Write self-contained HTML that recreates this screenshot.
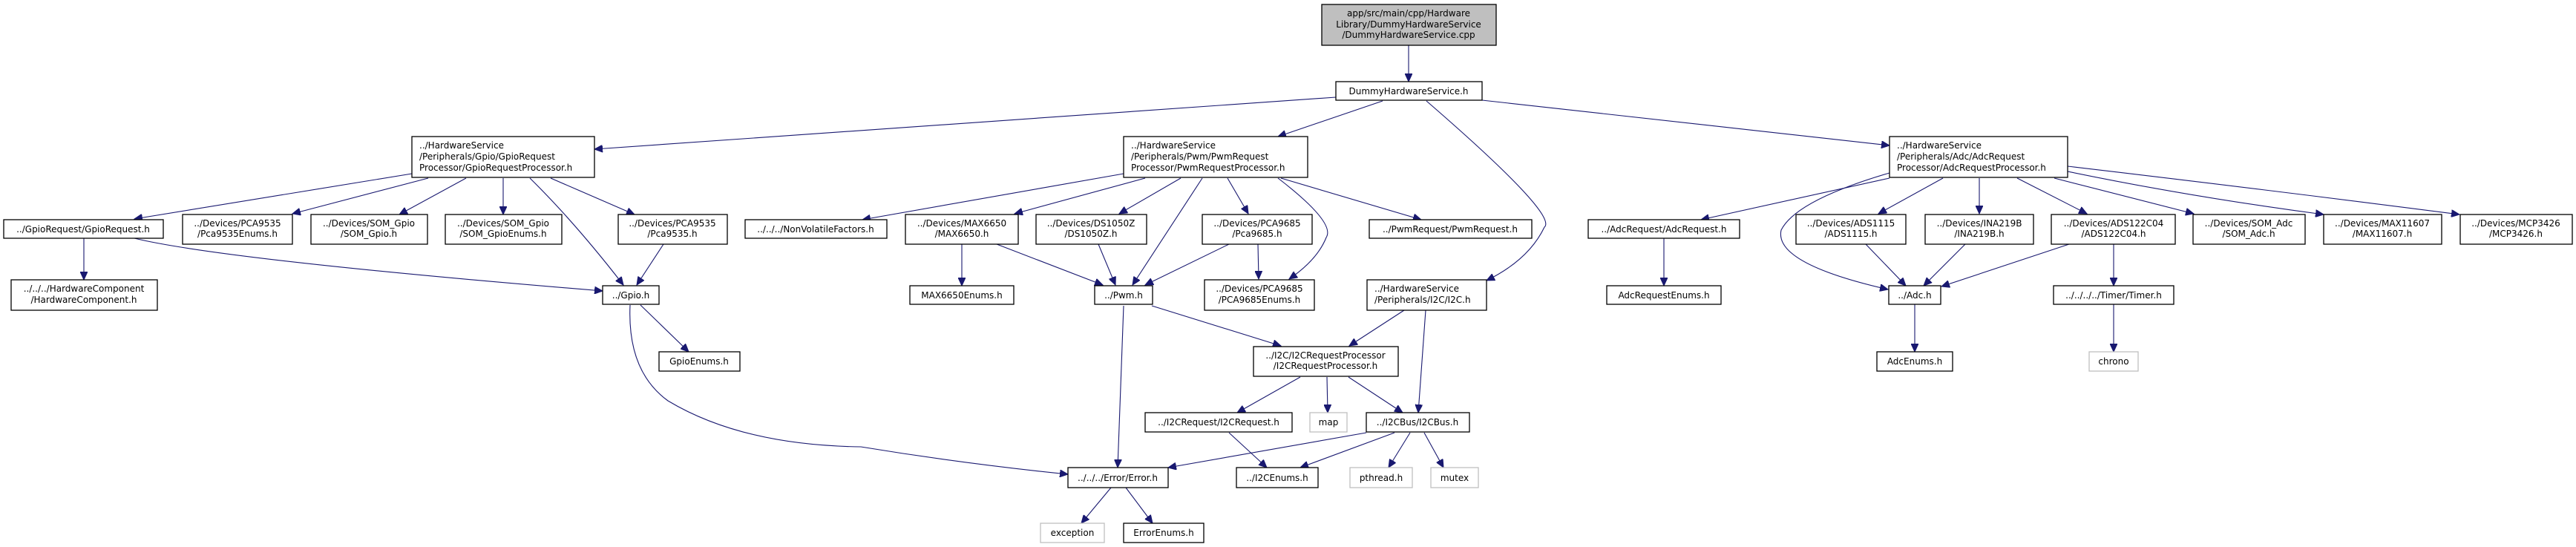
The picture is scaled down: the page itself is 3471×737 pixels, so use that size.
<!DOCTYPE html>
<html><head><meta charset="utf-8">
<style>
html,body{margin:0;padding:0;background:#fff;}
svg{display:block;}
text{font-family:"DejaVu Sans","Liberation Sans",sans-serif;font-size:12px;fill:#000;}
.n{fill:#fff;stroke:#000;stroke-width:1.3;}
.g{fill:#fff;stroke:#bfbfbf;stroke-width:1.3;}
.e{fill:none;stroke:#191970;stroke-width:1.1;}
</style></head>
<body>
<svg width="3471" height="737" viewBox="0 0 3471 737" xmlns="http://www.w3.org/2000/svg">
<defs>
<marker id="a" markerUnits="userSpaceOnUse" markerWidth="12" markerHeight="10" refX="11" refY="5" orient="auto">
<path d="M0,0 L11,5 L0,10 Z" fill="#191970" stroke="#191970"/>
</marker>
</defs>

<!-- edges -->
<g class="e" marker-end="url(#a)">
<path d="M1898,61 L1898,110"/>
<path d="M1800,131 L801,201"/>
<path d="M1863,136 L1722,184"/>
<path d="M1922,136 Q2100,290 2081,306 Q2060,350 2003,378"/>
<path d="M1997,135 L2546,196"/>

<path d="M555,234 L181,295"/>
<path d="M577,240 L394,288"/>
<path d="M628,240 L538,289"/>
<path d="M678,240 L678,289"/>
<path d="M714,240 Q775,300 840,384"/>
<path d="M742,240 L855,289"/>
<path d="M113,321 L113,377"/>
<path d="M181,321 Q300,350 812,392"/>
<path d="M894,329 L858,384"/>
<path d="M863,411 L928,474"/>
<path d="M849,411 Q845,500 900,540 Q1000,600 1160,602 Q1300,625 1439,639"/>

<path d="M1514,234 L1162,296"/>
<path d="M1543,240 L1367,288"/>
<path d="M1591,240 L1508,288"/>
<path d="M1620,240 L1526,384"/>
<path d="M1654,240 L1682,288"/>
<path d="M1722,240 Q1800,300 1787,320 Q1775,350 1737,376"/>
<path d="M1726,240 L1915,296"/>
<path d="M1296,329 L1296,385"/>
<path d="M1343,329 L1486,384"/>
<path d="M1480,329 L1503,384"/>
<path d="M1656,329 L1543,384"/>
<path d="M1695,329 L1696,376"/>
<path d="M1552,412 L1726,466"/>
<path d="M1514,412 L1506,630"/>
<path d="M1892,418 L1818,466"/>
<path d="M1921,418 L1911,556"/>
<path d="M1752,508 L1667,556"/>
<path d="M1788,508 L1789,556"/>
<path d="M1817,508 L1890,556"/>
<path d="M1656,583 L1707,630"/>
<path d="M1841,583 L1574,630"/>
<path d="M1879,583 L1752,630"/>
<path d="M1900,583 L1871,630"/>
<path d="M1919,583 L1945,630"/>
<path d="M1497,657 L1457,705"/>
<path d="M1517,657 L1553,705"/>

<path d="M2546,240 L2292,296"/>
<path d="M2546,233 Q2420,270 2400,310 Q2390,355 2544,390"/>
<path d="M2618,240 L2531,288"/>
<path d="M2667,240 L2667,288"/>
<path d="M2718,240 L2812,288"/>
<path d="M2768,240 L2956,288"/>
<path d="M2786,231 Q2950,265 3131,289"/>
<path d="M2786,224 Q3050,255 3314,289"/>
<path d="M2514,329 L2568,385"/>
<path d="M2648,329 L2592,385"/>
<path d="M2788,329 L2616,386"/>
<path d="M2848,329 L2848,385"/>
<path d="M2580,410 L2580,474"/>
<path d="M2848,410 L2848,474"/>
<path d="M2242,321 L2242,385"/>
</g>

<!-- nodes -->
<rect x="1781" y="6" width="235" height="55" fill="#bfbfbf" stroke="#000" stroke-width="1.3"/>
<text x="1898" y="22" text-anchor="middle">app/src/main/cpp/Hardware</text>
<text x="1898" y="37" text-anchor="middle">Library/DummyHardwareService</text>
<text x="1898" y="51" text-anchor="middle">/DummyHardwareService.cpp</text>

<rect class="n" x="1800" y="110" width="197" height="25"/>
<text x="1898" y="127" text-anchor="middle">DummyHardwareService.h</text>

<rect class="n" x="555" y="184" width="246" height="55"/>
<text x="565" y="200">../HardwareService</text>
<text x="565" y="215">/Peripherals/Gpio/GpioRequest</text>
<text x="565" y="230">Processor/GpioRequestProcessor.h</text>

<rect class="n" x="1514" y="184" width="248" height="55"/>
<text x="1524" y="200">../HardwareService</text>
<text x="1524" y="215">/Peripherals/Pwm/PwmRequest</text>
<text x="1524" y="230">Processor/PwmRequestProcessor.h</text>

<rect class="n" x="2546" y="184" width="240" height="55"/>
<text x="2556" y="200">../HardwareService</text>
<text x="2556" y="215">/Peripherals/Adc/AdcRequest</text>
<text x="2556" y="230">Processor/AdcRequestProcessor.h</text>

<!-- row 1 single -->
<rect class="n" x="5" y="296" width="215" height="25"/>
<text x="112" y="313" text-anchor="middle">../GpioRequest/GpioRequest.h</text>
<rect class="n" x="1004" y="296" width="191" height="25"/>
<text x="1099" y="313" text-anchor="middle">../../../NonVolatileFactors.h</text>
<rect class="n" x="1845" y="296" width="219" height="25"/>
<text x="1954" y="313" text-anchor="middle">../PwmRequest/PwmRequest.h</text>
<rect class="n" x="2140" y="296" width="204" height="25"/>
<text x="2242" y="313" text-anchor="middle">../AdcRequest/AdcRequest.h</text>

<!-- row 1 double -->
<rect class="n" x="246" y="289" width="148" height="40"/>
<text x="320" y="305" text-anchor="middle">../Devices/PCA9535</text>
<text x="320" y="319" text-anchor="middle">/Pca9535Enums.h</text>
<rect class="n" x="419" y="289" width="157" height="40"/>
<text x="497" y="305" text-anchor="middle">../Devices/SOM_Gpio</text>
<text x="497" y="319" text-anchor="middle">/SOM_Gpio.h</text>
<rect class="n" x="600" y="289" width="157" height="40"/>
<text x="678" y="305" text-anchor="middle">../Devices/SOM_Gpio</text>
<text x="678" y="319" text-anchor="middle">/SOM_GpioEnums.h</text>
<rect class="n" x="833" y="289" width="147" height="40"/>
<text x="906" y="305" text-anchor="middle">../Devices/PCA9535</text>
<text x="906" y="319" text-anchor="middle">/Pca9535.h</text>
<rect class="n" x="1220" y="289" width="152" height="40"/>
<text x="1296" y="305" text-anchor="middle">../Devices/MAX6650</text>
<text x="1296" y="319" text-anchor="middle">/MAX6650.h</text>
<rect class="n" x="1396" y="289" width="149" height="40"/>
<text x="1470" y="305" text-anchor="middle">../Devices/DS1050Z</text>
<text x="1470" y="319" text-anchor="middle">/DS1050Z.h</text>
<rect class="n" x="1620" y="289" width="148" height="40"/>
<text x="1694" y="305" text-anchor="middle">../Devices/PCA9685</text>
<text x="1694" y="319" text-anchor="middle">/Pca9685.h</text>
<rect class="n" x="2420" y="289" width="148" height="40"/>
<text x="2494" y="305" text-anchor="middle">../Devices/ADS1115</text>
<text x="2494" y="319" text-anchor="middle">/ADS1115.h</text>
<rect class="n" x="2594" y="289" width="146" height="40"/>
<text x="2667" y="305" text-anchor="middle">../Devices/INA219B</text>
<text x="2667" y="319" text-anchor="middle">/INA219B.h</text>
<rect class="n" x="2764" y="289" width="167" height="40"/>
<text x="2848" y="305" text-anchor="middle">../Devices/ADS122C04</text>
<text x="2848" y="319" text-anchor="middle">/ADS122C04.h</text>
<rect class="n" x="2955" y="289" width="151" height="40"/>
<text x="3030" y="305" text-anchor="middle">../Devices/SOM_Adc</text>
<text x="3030" y="319" text-anchor="middle">/SOM_Adc.h</text>
<rect class="n" x="3131" y="289" width="159" height="40"/>
<text x="3210" y="305" text-anchor="middle">../Devices/MAX11607</text>
<text x="3210" y="319" text-anchor="middle">/MAX11607.h</text>
<rect class="n" x="3315" y="289" width="151" height="40"/>
<text x="3390" y="305" text-anchor="middle">../Devices/MCP3426</text>
<text x="3390" y="319" text-anchor="middle">/MCP3426.h</text>

<!-- row 2 -->
<rect class="n" x="15" y="377" width="197" height="41"/>
<text x="113" y="393" text-anchor="middle">../../../HardwareComponent</text>
<text x="113" y="408" text-anchor="middle">/HardwareComponent.h</text>
<rect class="n" x="812" y="385" width="76" height="25"/>
<text x="850" y="402" text-anchor="middle">../Gpio.h</text>
<rect class="n" x="1226" y="385" width="140" height="25"/>
<text x="1296" y="402" text-anchor="middle">MAX6650Enums.h</text>
<rect class="n" x="1475" y="385" width="78" height="25"/>
<text x="1514" y="402" text-anchor="middle">../Pwm.h</text>
<rect class="n" x="1623" y="377" width="148" height="41"/>
<text x="1697" y="393" text-anchor="middle">../Devices/PCA9685</text>
<text x="1697" y="408" text-anchor="middle">/PCA9685Enums.h</text>
<rect class="n" x="1842" y="377" width="161" height="41"/>
<text x="1852" y="393">../HardwareService</text>
<text x="1852" y="408">/Peripherals/I2C/I2C.h</text>
<rect class="n" x="2165" y="385" width="154" height="25"/>
<text x="2242" y="402" text-anchor="middle">AdcRequestEnums.h</text>
<rect class="n" x="2545" y="385" width="70" height="25"/>
<text x="2580" y="402" text-anchor="middle">../Adc.h</text>
<rect class="n" x="2767" y="385" width="162" height="25"/>
<text x="2848" y="402" text-anchor="middle">../../../../Timer/Timer.h</text>

<!-- row 3 -->
<rect class="n" x="888" y="474" width="109" height="26"/>
<text x="942" y="491" text-anchor="middle">GpioEnums.h</text>
<rect class="n" x="1689" y="467" width="195" height="40"/>
<text x="1786" y="483" text-anchor="middle">../I2C/I2CRequestProcessor</text>
<text x="1786" y="497" text-anchor="middle">/I2CRequestProcessor.h</text>
<rect class="n" x="2529" y="474" width="102" height="26"/>
<text x="2580" y="491" text-anchor="middle">AdcEnums.h</text>
<rect class="g" x="2815" y="474" width="66" height="26"/>
<text x="2848" y="491" text-anchor="middle">chrono</text>

<!-- row 4 -->
<rect class="n" x="1543" y="556" width="198" height="26"/>
<text x="1642" y="573" text-anchor="middle">../I2CRequest/I2CRequest.h</text>
<rect class="g" x="1765" y="556" width="50" height="26"/>
<text x="1790" y="573" text-anchor="middle">map</text>
<rect class="n" x="1841" y="556" width="139" height="26"/>
<text x="1910" y="573" text-anchor="middle">../I2CBus/I2CBus.h</text>

<!-- row 5 -->
<rect class="n" x="1439" y="630" width="135" height="27"/>
<text x="1506" y="648" text-anchor="middle">../../../Error/Error.h</text>
<rect class="n" x="1666" y="630" width="110" height="27"/>
<text x="1721" y="648" text-anchor="middle">../I2CEnums.h</text>
<rect class="g" x="1819" y="630" width="84" height="27"/>
<text x="1861" y="648" text-anchor="middle">pthread.h</text>
<rect class="g" x="1928" y="630" width="64" height="27"/>
<text x="1960" y="648" text-anchor="middle">mutex</text>

<!-- row 6 -->
<rect class="g" x="1402" y="705" width="86" height="26"/>
<text x="1445" y="722" text-anchor="middle">exception</text>
<rect class="n" x="1514" y="705" width="108" height="26"/>
<text x="1568" y="722" text-anchor="middle">ErrorEnums.h</text>
</svg>
</body></html>
